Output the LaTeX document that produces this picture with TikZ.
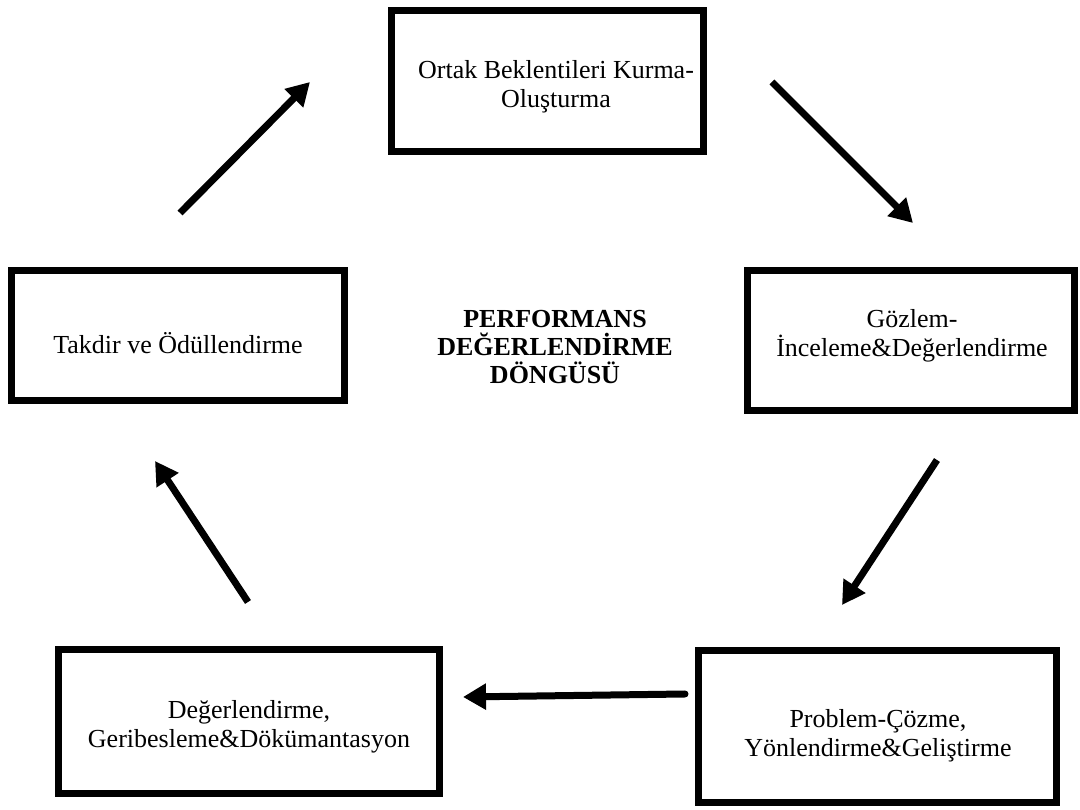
\documentclass[tikz,border=0pt]{standalone}
\usepackage{fontspec}
\setmainfont{Liberation Serif}
\usetikzlibrary{arrows.meta}
\tikzset{
  box/.style={draw=black, line width=0.14cm, inner sep=0pt, fill=white},
  lbl/.style={align=center, inner sep=0pt, font=\fontsize{14.8}{16.5}\selectfont},
  ttl/.style={align=center, inner sep=0pt, font=\fontsize{14.8}{15.8}\selectfont\bfseries},
  flow/.style={line width=0.14cm, -{Triangle[length=0.46cm,width=0.5cm]}}
}
\begin{document}
\begin{tikzpicture}[x=0.02cm,y=-0.02cm]
\useasboundingbox (0,0) rectangle (1080,810);
% boxes
\node[box, minimum width=6.24cm, minimum height=2.82cm] (b1) at (547.5,81) {};
\node[box, minimum width=6.54cm, minimum height=2.80cm] (b2) at (911,340.5) {};
\node[box, minimum width=7.16cm, minimum height=3.04cm] (b3) at (877.5,726.5) {};
\node[box, minimum width=7.62cm, minimum height=2.88cm] (b4) at (249,721.5) {};
\node[box, minimum width=6.66cm, minimum height=2.60cm] (b5) at (178,335.5) {};
% texts
\node[lbl] (t1) at (556,87) {Ortak Beklentileri Kurma-\\Oluşturma};
\node[lbl] (t2) at (912,336) {Gözlem-\\İnceleme\&Değerlendirme};
\node[lbl] (t3) at (878,736) {Problem-Çözme,\\Yönlendirme\&Geliştirme};
\node[lbl] (t4) at (249,727) {Değerlendirme,\\Geribesleme\&Dökümantasyon};
\node[lbl] (t5) at (178,343) {Takdir ve Ödüllendirme};
\node[ttl] (title) at (555,347) {PERFORMANS\\DEĞERLENDİRME\\DÖNGÜSÜ};
% arrow end points
\coordinate (a1s) at (180,213); \coordinate (a1e) at (310,82);
\coordinate (a2s) at (772,82);  \coordinate (a2e) at (913,223);
\coordinate (a3s) at (937,460); \coordinate (a3e) at (842,605);
\coordinate (a4s) at (685,694); \coordinate (a4e) at (463,697);
\coordinate (a5s) at (248,602); \coordinate (a5e) at (155,461);
\draw[flow] (a1s) -- (a1e);
\draw[flow] (a2s) -- (a2e);
\draw[flow] (a3s) -- (a3e);
\draw[flow, line cap=round] (a4s) -- (a4e);
\draw[flow] (a5s) -- (a5e);
\end{tikzpicture}
\end{document}
